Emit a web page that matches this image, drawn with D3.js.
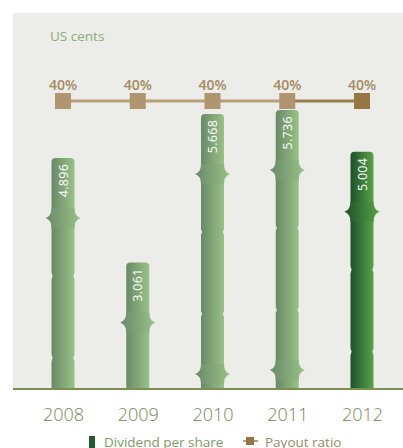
<!DOCTYPE html>
<html>
<head>
<meta charset="utf-8" />
<script src="https://d3js.org/d3.v7.min.js"></script>
<style>
  body { margin: 0; background: #fff; }
  text { font-family: "Open Sans", "Noto Sans", sans-serif; }
</style>
</head>
<body>
<svg id="chart" width="403" height="448"></svg>
<script>
// chart data
var years = ["2008", "2009", "2010", "2011", "2012"];
var dividend = [4.896, 3.061, 5.668, 5.736, 5.004];
var dividendLabels = ["4.896", "3.061", "5.668", "5.736", "5.004"];
var payout = [40, 40, 40, 40, 40];
var payoutLabels = ["40%", "40%", "40%", "40%", "40%"];

var svg = d3.select("#chart");
var base = 389, barW = 23;

var x = d3.scalePoint().domain(years).range([63, 362]);
var y = d3.scaleLinear().domain([0.84, 6]).range([base, 95]);
var yp = d3.scaleLinear().domain([0, 45]).range([base, 65]);

var defs = svg.append("defs");
function grad(id, c1, c2) {
  var g = defs.append("linearGradient").attr("id", id)
    .attr("x1", "0%").attr("x2", "100%").attr("y1", "0%").attr("y2", "0%");
  g.append("stop").attr("offset", "0%").attr("stop-color", c1);
  g.append("stop").attr("offset", "100%").attr("stop-color", c2);
}
grad("gLight", "#6a8967", "#98c287");
grad("gDark", "#1d5028", "#58a349");

// background panel
svg.append("rect").attr("x", 13).attr("y", 13).attr("width", 390).attr("height", base - 13)
  .attr("fill", "#ecece8");

svg.append("text").attr("x", 50).attr("y", 41).attr("font-size", 13.5)
  .attr("fill", "#8dab79").text("US cents");

// bars (bamboo style)
var nodeOffsets = [60, 118, 200, 260];
var nodeKinds = ["spike", "notch", "notch", "spike"];

years.forEach(function(yr, i) {
  var cx = x(yr), top = y(dividend[i]), left = cx - barW / 2, right = cx + barW / 2;
  var fill = i === years.length - 1 ? "url(#gDark)" : "url(#gLight)";
  var g = svg.append("g");
  g.append("path").attr("fill", fill)
    .attr("d", "M" + left + "," + base + "V" + (top + 4) + "Q" + left + "," + top + " " + (left + 4) + "," + top +
      "H" + (right - 4) + "Q" + right + "," + top + " " + right + "," + (top + 4) + "V" + base + "Z");
  nodeOffsets.forEach(function(off, k) {
    var ny = top + off;
    if (ny > base - 12) return;
    if (nodeKinds[k] === "spike") {
      g.append("path").attr("fill", fill)
        .attr("d", "M" + left + "," + (ny - 10) + "Q" + left + "," + (ny - 2) + " " + (left - 6) + "," + ny +
          "Q" + left + "," + (ny + 2) + " " + left + "," + (ny + 10) + "H" + right +
          "Q" + right + "," + (ny + 2) + " " + (right + 6) + "," + ny +
          "Q" + right + "," + (ny - 2) + " " + right + "," + (ny - 10) + "Z");
    } else {
      g.append("path").attr("fill", "#ecece8")
        .attr("d", "M" + (left - 0.5) + "," + (ny - 4) + "L" + (left + 1.2) + "," + ny + "L" + (left - 0.5) + "," + (ny + 4) + "Z");
      g.append("path").attr("fill", "#ecece8")
        .attr("d", "M" + (right + 0.5) + "," + (ny - 4) + "L" + (right - 1.2) + "," + ny + "L" + (right + 0.5) + "," + (ny + 4) + "Z");
    }
  });
  g.append("text")
    .attr("transform", "translate(" + (cx + 4.5) + "," + (top + 6) + ") rotate(-90)")
    .attr("text-anchor", "end").attr("font-size", 12.5).attr("fill", "#fff")
    .attr("letter-spacing", 0.3).text(dividendLabels[i]);
});

// baseline
svg.append("line").attr("x1", 13).attr("x2", 403).attr("y1", base).attr("y2", base)
  .attr("stroke", "#7c8d57").attr("stroke-width", 2);

// payout line
for (var i = 0; i < years.length - 1; i++) {
  svg.append("line")
    .attr("x1", x(years[i])).attr("x2", x(years[i + 1]))
    .attr("y1", yp(payout[i])).attr("y2", yp(payout[i + 1]))
    .attr("stroke", i === years.length - 2 ? "#9a7e4f" : "#b8a07a").attr("stroke-width", 3);
}
svg.selectAll(".sq").data(years).enter().append("rect")
  .attr("x", function(d) { return x(d) - 8; })
  .attr("y", function(d, i) { return yp(payout[i]) - 8; })
  .attr("width", 16).attr("height", 16)
  .attr("fill", function(d, i) { return i === years.length - 1 ? "#957744" : "#b09670"; });
svg.selectAll(".pl").data(years).enter().append("text")
  .attr("x", function(d) { return x(d); })
  .attr("y", function(d, i) { return yp(payout[i]) - 11; })
  .attr("text-anchor", "middle").attr("font-size", 14).attr("font-weight", 600)
  .attr("fill", "#a38b62")
  .text(function(d, i) { return payoutLabels[i]; });

// x axis labels
var xAxis = svg.append("g").attr("transform", "translate(0," + base + ")")
  .call(d3.axisBottom(x).tickSize(0).tickPadding(19));
xAxis.select(".domain").remove();
xAxis.selectAll("text").attr("font-family", "'Open Sans', sans-serif")
  .attr("font-size", 18).attr("font-weight", 300).attr("fill", "#6f8a5a");

// legend (cut at the bottom edge as in the original)
var leg = svg.append("g").attr("font-size", 13.5).attr("fill", "#7c9a68");
leg.append("rect").attr("x", 89).attr("y", 436).attr("width", 6).attr("height", 14).attr("fill", "#1f5a2c");
leg.append("text").attr("x", 104).attr("y", 447).text("Dividend per share");
leg.append("line").attr("x1", 243).attr("x2", 258).attr("y1", 441).attr("y2", 441)
  .attr("stroke", "#b8a07a").attr("stroke-width", 2);
leg.append("rect").attr("x", 246).attr("y", 437).attr("width", 8).attr("height", 8).attr("fill", "#957744");
leg.append("text").attr("x", 265).attr("y", 447).attr("fill", "#9a8a66").text("Payout ratio");
</script>
</body>
</html>
